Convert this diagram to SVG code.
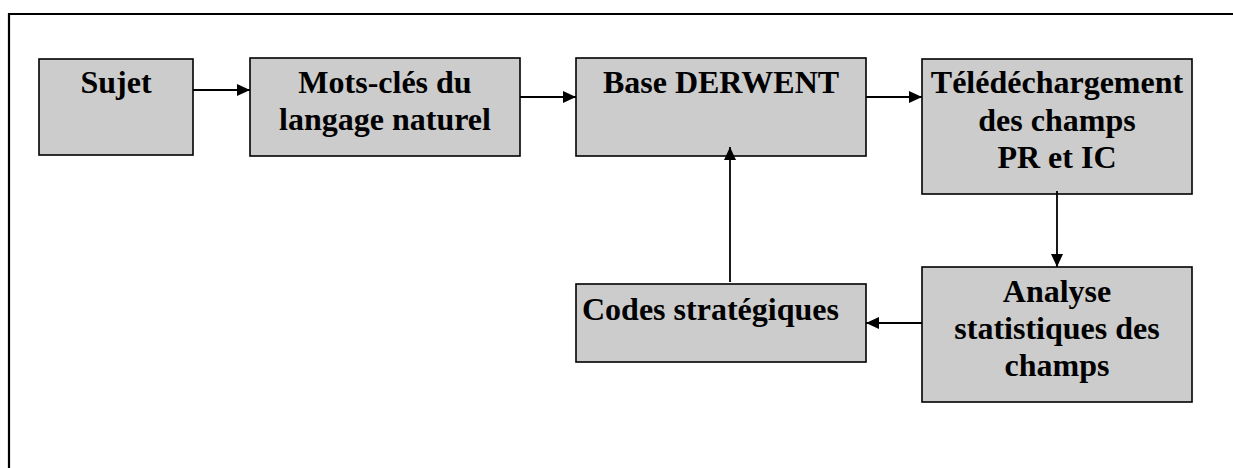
<svg xmlns="http://www.w3.org/2000/svg" width="1233" height="468" viewBox="0 0 1233 468">
<style>
.box{fill:#cccccc;stroke:#000;stroke-width:1.6}
.t{font-family:"Liberation Serif","Times New Roman",serif;font-weight:bold;font-size:32px;fill:#000;text-anchor:middle}
.c{fill:none;stroke:#000;stroke-width:1.8}
</style>
<defs>
<marker id="ah" markerWidth="13" markerHeight="12" refX="13" refY="6" orient="auto" markerUnits="userSpaceOnUse" viewBox="0 0 13 12">
<path d="M0,0 L13,6 L0,12 z" fill="#000"/>
</marker>
</defs>
<rect x="0" y="0" width="1233" height="468" fill="#fff"/>
<path d="M9,480 L9,14 L1250,14" fill="none" stroke="#000" stroke-width="2.2"/>
<g id="sujet"><rect class="box" x="39" y="59" width="154" height="96"/><text class="t" x="116" y="93">Sujet</text></g>
<g id="motscles"><rect class="box" x="250" y="58" width="270" height="98"/><text class="t" x="385" y="93">Mots-clés du</text><text class="t" x="385" y="130">langage naturel</text></g>
<g id="derwent"><rect class="box" x="576" y="58" width="290" height="98"/><text class="t" x="721" y="93">Base DERWENT</text></g>
<g id="telechargement"><rect class="box" x="922" y="59" width="270" height="135"/><text class="t" x="1057" y="93">Télédéchargement</text><text class="t" x="1057" y="131">des champs</text><text class="t" x="1057" y="168">PR et IC</text></g>
<g id="analyse"><rect class="box" x="922" y="267" width="270" height="135"/><text class="t" x="1057" y="302">Analyse</text><text class="t" x="1057" y="339">statistiques des</text><text class="t" x="1057" y="376">champs</text></g>
<g id="codes"><rect class="box" x="576" y="284" width="290" height="78"/><text class="t" x="582" y="320" style="text-anchor:start">Codes stratégiques</text></g>
<g id="connectors">
<line class="c" x1="193" y1="90" x2="250" y2="90" marker-end="url(#ah)"/>
<line class="c" x1="520" y1="97" x2="576" y2="97" marker-end="url(#ah)"/>
<line class="c" x1="866" y1="97" x2="922" y2="97" marker-end="url(#ah)"/>
<line class="c" x1="1057" y1="191" x2="1057" y2="267" marker-end="url(#ah)"/>
<line class="c" x1="922" y1="323" x2="866" y2="323" marker-end="url(#ah)"/>
<line class="c" x1="730" y1="282" x2="730" y2="147" marker-end="url(#ah)"/>
</g>
</svg>
